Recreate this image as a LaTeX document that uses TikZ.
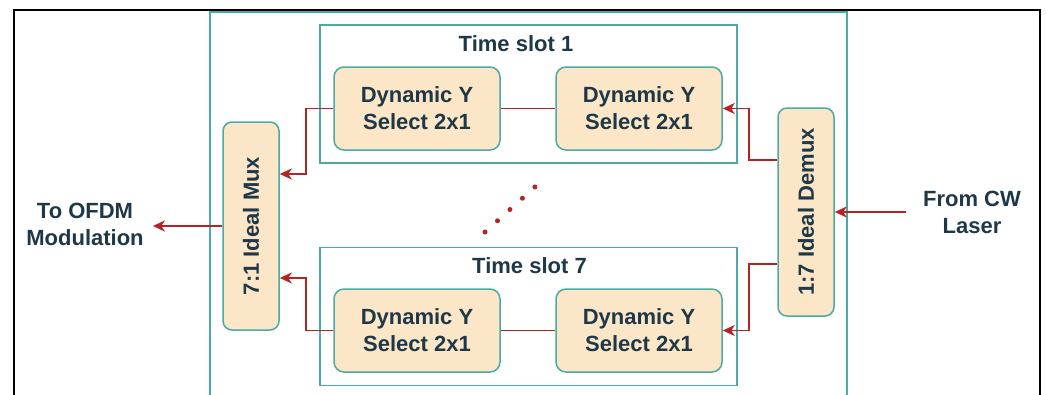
\documentclass[tikz,border=0pt]{standalone}
\usepackage{fontspec}
\setmainfont{Liberation Sans}
\usepackage{tikz}
\usetikzlibrary{positioning, calc, arrows.meta}
\definecolor{slotteal}{RGB}{74,170,166}
\definecolor{blockfill}{RGB}{252,230,200}
\definecolor{linkred}{RGB}{180,36,36}
\definecolor{labeltext}{RGB}{30,56,72}

\begin{document}
\begin{tikzpicture}[x=1pt, y=-1pt,
		every node/.style={text=labeltext, font=\bfseries\fontsize{22}{27}\selectfont},
		block/.style={draw=slotteal, fill=blockfill, line width=1.5pt, rounded corners=10pt, minimum width=166pt, minimum height=83pt, align=center, inner sep=0pt},
		tallblock/.style={draw=slotteal, fill=blockfill, line width=1.5pt, rounded corners=9pt, minimum width=56pt, minimum height=208pt, inner sep=0pt},
		slotbox/.style={draw=slotteal, line width=1.5pt, minimum width=417pt, minimum height=138pt, inner sep=0pt},
		link/.style={draw=linkred, line width=1.8pt, -{Stealth[length=12pt, width=11pt, inset=3.5pt]}},
		plainlink/.style={draw=linkred, line width=1.8pt}]
		\useasboundingbox (0,0) rectangle (1046,394);
		\clip (0,0) rectangle (1046,394);
		\pgfmathsetmacro{\dy}{52}
		\draw[black, line width=2pt] (14,10) rectangle (1040,430);
		\draw[slotteal, line width=1.5pt] (210,12) rectangle (847,430);
		
		\node[slotbox] (slot1) at (528.5,94) {};
		\node[slotbox] (slot7) at (528.5,316.5) {};
		\node at (516,44) (title1) {Time slot 1};
		\node at (529.5,266) (title7) {Time slot 7};
		
		\node[block] (dyn1a) at (417,108.5) {Dynamic Y\\Select 2x1};
		\node[block] (dyn1b) at (639,108.5) {Dynamic Y\\Select 2x1};
		\node[block] (dyn7a) at (417,330.5) {Dynamic Y\\Select 2x1};
		\node[block] (dyn7b) at (639,330.5) {Dynamic Y\\Select 2x1};
		
		\node[tallblock] (mux) at (251,226) {\rotatebox{90}{7:1 Ideal Mux}};
		\node[tallblock] (demux) at (806,212) {\rotatebox{90}{1:7 Ideal Demux}};
		
		\node[align=center, inner sep=0pt] (ofdm) at (85,224) {To OFDM\\Modulation};
		\node[align=center, inner sep=0pt] (laser) at (972,212) {From CW\\Laser};
		
		\draw[plainlink] (dyn1a) -- (dyn1b);
		\draw[plainlink] (dyn7a) -- (dyn7b);
		\draw[link] (dyn1a.west) -- ++(-27,0) |- ([yshift=\dy pt]mux.east);
		\draw[link] (dyn7a.west) -- ++(-27,0) |- ([yshift=-\dy pt]mux.east);
		\draw[link] ([yshift=\dy pt]demux.west) -- ++(-28,0) |- (dyn1b.east);
		\draw[link] ([yshift=-\dy pt]demux.west) -- ++(-28,0) |- (dyn7b.east);
		\draw[link] (mux.west) -- ([xshift=9pt]ofdm.east |- mux.west);
		\draw[link] ([xshift=-17pt]laser.west) -- (demux.east);
		
		\draw[linkred, line width=5pt, line cap=round, dash pattern=on 0pt off 16.8pt] (485,232) -- (536,186);
\end{tikzpicture}
\end{document}
